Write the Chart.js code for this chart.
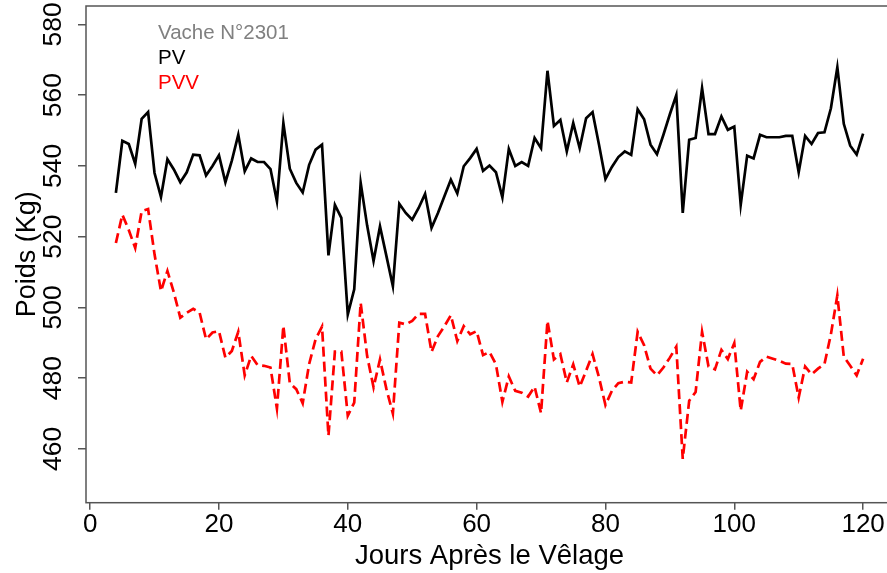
<!DOCTYPE html>
<html>
<head>
<meta charset="utf-8">
<script src="https://cdn.jsdelivr.net/npm/chart.js@4.4.1/dist/chart.umd.min.js"></script>
<style>
  html, body { margin: 0; padding: 0; background: #fff; overflow: hidden; }
  #wrap { width: 896px; height: 573px; }
</style>
</head>
<body>
<div id="wrap"><canvas id="grafico" width="896" height="573"></canvas></div>
<script>
// Jours après le vêlage
const jours = [
    4, 5, 6, 7, 8, 9, 10, 11, 12, 13,
    14, 15, 16, 17, 18, 19, 20, 21, 22, 23,
    24, 25, 26, 27, 28, 29, 30, 31, 32, 33,
    34, 35, 36, 37, 38, 39, 40, 41, 42, 43,
    44, 45, 46, 47, 48, 49, 50, 51, 52, 53,
    54, 55, 56, 57, 58, 59, 60, 61, 62, 63,
    64, 65, 66, 67, 68, 69, 70, 71, 72, 73,
    74, 75, 76, 77, 78, 79, 80, 81, 82, 83,
    84, 85, 86, 87, 88, 89, 90, 91, 92, 93,
    94, 95, 96, 97, 98, 99, 100, 101, 102, 103,
    104, 105, 106, 107, 108, 109, 110, 111, 112, 113,
    114, 115, 116, 117, 118, 119, 120
];

// PV (poids vif)
const pv = [
    532.4, 547.1, 546.2, 540.6, 553.3, 555.2, 538, 531.2, 541.9, 539,
    535.4, 538.2, 543.2, 543, 537.3, 540, 543, 535.4, 541.5, 548.8,
    538.5, 542.1, 541.1, 541.1, 539.1, 530, 552.1, 539.2, 535.2, 532.5,
    540.3, 544.6, 546, 514.7, 529, 525.3, 498, 505.1, 535.2, 523.2,
    513.1, 522.9, 514.5, 506, 529.3, 526.7, 524.8, 528.1, 532.1, 522.5,
    526.7, 531.4, 536.1, 532.2, 539.9, 542.2, 544.8, 538.6, 540.1, 538.2,
    531.1, 544.8, 540, 541.1, 540, 547.9, 545, 566.9, 551.3, 553,
    544.1, 552.1, 545, 553.5, 555.2, 546, 536.3, 539.7, 542.5, 544.1,
    543.1, 556, 553.2, 546, 543.3, 548.8, 554.6, 560, 526.7, 547.4,
    547.9, 562, 549, 549, 554, 550.2, 551.1, 529, 542.9, 542.1,
    548.8, 548.1, 548.1, 548.1, 548.5, 548.5, 538.2, 548.5, 546.2, 549.3,
    549.5, 556.3, 567.9, 551.9, 545.7, 543.2, 549.1
];

// PVV
const pvv = [
    518.2, 526.2, 521.9, 516.8, 527.2, 527.8, 515, 504.6, 510.3, 504.2,
    497.1, 498.5, 499.6, 498.5, 491, 492.9, 493.3, 485.8, 487.7, 493.1,
    480.8, 486.3, 483.7, 483.5, 483, 471.4, 494.8, 478.6, 476.9, 472.9,
    484, 491, 494.6, 463.7, 487.5, 487.5, 469.4, 473.1, 501.3, 486.3,
    477.4, 485.3, 476.9, 470, 495.7, 495.2, 496.2, 498.2, 498.2, 487.4,
    491.9, 494.7, 497.8, 490.5, 494.7, 492.4, 493.3, 486.5, 487.4, 483.9,
    473.3, 480.5, 476.4, 475.9, 474.8, 477.6, 470.1, 496.2, 485.3, 486.8,
    478.8, 483.9, 477.6, 482.1, 486.8, 480.2, 472.4, 476.4, 478.6, 479,
    478.8, 493.1, 489.3, 482.7, 480.8, 483, 485.8, 488.9, 457.2, 473.6,
    476.1, 493.1, 483.3, 482.5, 488, 485.4, 489.9, 470.8, 481.8, 479.7,
    484.6, 486.1, 485.5, 484.9, 484.1, 484, 474.5, 483.3, 481.1, 482.7,
    484, 492.4, 503.4, 486.1, 483.5, 480.8, 485.5
];

const ticksX = [0, 20, 40, 60, 80, 100, 120];
const ticksY = [460, 480, 500, 520, 540, 560, 580];
const titreLegende = 'Vache N°2301';

const police = 'Liberation Sans, Arial, sans-serif';
const gris = '#555555';

// cadre autour de la zone du graphique + légende en texte (façon R)
const cadreEtLegende = {
    id: 'cadreEtLegende',
    afterDraw(chart) {
        const ctx = chart.ctx;
        const a = chart.chartArea;
        ctx.save();
        ctx.strokeStyle = gris;
        ctx.lineWidth = 1.5;
        ctx.strokeRect(a.left, a.top, a.right - a.left, a.bottom - a.top);

        ctx.font = '20.5px ' + police;
        ctx.textAlign = 'left';
        ctx.textBaseline = 'alphabetic';
        let x = a.left + 72;
        let y = a.top + 33;
        ctx.fillStyle = '#808080';
        ctx.fillText(titreLegende, x, y);
        chart.data.datasets.forEach(ds => {
            y += 25;
            ctx.fillStyle = ds.borderColor;
            ctx.fillText(ds.label, x, y);
        });
        ctx.restore();
    }
};

let ctx = document.getElementById('grafico').getContext('2d');
window.grafico = new Chart(ctx, {
    type: 'line',
    data: {
        datasets: [
            {
                label: 'PV',
                data: jours.map((j, i) => ({ x: j, y: pv[i] })),
                borderColor: '#000000',
                borderWidth: 2.7,
                pointRadius: 0,
                tension: 0,
                fill: false
            },
            {
                label: 'PVV',
                data: jours.map((j, i) => ({ x: j, y: pvv[i] })),
                borderColor: '#FF0000',
                borderWidth: 2.7,
                borderDash: [10, 5],
                pointRadius: 0,
                tension: 0,
                fill: false
            }
        ]
    },
    options: {
        responsive: false,
        animation: false,
        layout: { padding: { top: 6, right: 3, left: 0, bottom: 0 } },
        plugins: { legend: { display: false }, tooltip: { enabled: false } },
        scales: {
            x: {
                type: 'linear',
                min: -0.64,
                max: 124.64,
                afterBuildTicks: s => { s.ticks = ticksX.map(v => ({ value: v })); },
                afterFit: s => { s.height = 70.3; s.paddingLeft = 0; s.paddingRight = 0; },
                border: { display: false },
                grid: { drawOnChartArea: false, drawTicks: true, tickLength: 7, color: gris, lineWidth: 1.5 },
                ticks: { color: '#000', font: { family: police, size: 26 }, padding: 0, maxRotation: 0 },
                title: { display: true, text: 'Jours Après le Vêlage', color: '#000', font: { family: police, size: 27.5 }, padding: { top: 0, bottom: 0 } }
            },
            y: {
                min: 444.8,
                max: 585.2,
                afterBuildTicks: s => { s.ticks = ticksY.map(v => ({ value: v })); },
                afterFit: s => { s.width = 86; s.paddingTop = 0; s.paddingBottom = 0; },
                border: { display: false },
                grid: { drawOnChartArea: false, drawTicks: true, tickLength: 8, color: gris, lineWidth: 1.5 },
                ticks: { color: '#000', font: { family: police, size: 26.5 }, padding: 2, minRotation: 90, maxRotation: 90, crossAlign: 'center' },
                title: { display: true, text: 'Poids (Kg)', color: '#000', font: { family: police, size: 27 }, padding: { top: 11, bottom: 0 } }
            }
        }
    },
    plugins: [cadreEtLegende]
});
</script>
</body>
</html>
